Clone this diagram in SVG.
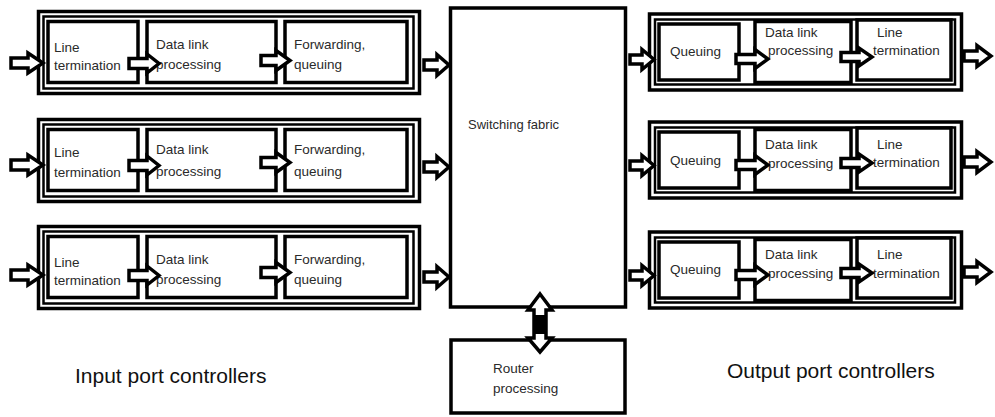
<svg xmlns="http://www.w3.org/2000/svg" width="995" height="417" viewBox="0 0 995 417">
<defs>
<style>
.fo{fill:none;stroke:#000;stroke-width:3.5}
.fi{fill:none;stroke:#000;stroke-width:2.5}
.bx{fill:#fff;stroke:#000;stroke-width:3.5}
.big{fill:#fff;stroke:#000;stroke-width:3.5}
.t{font-family:"Liberation Sans",Arial,sans-serif;font-size:13.5px;fill:#2a2a2a}
.lbl{font-family:"Liberation Sans",Arial,sans-serif;font-size:21px;fill:#111}
.ar{fill:#fff;stroke:#000;stroke-width:3.5;stroke-linejoin:miter}
</style>
</defs>
<rect width="995" height="417" fill="#fff"/>

<!-- Input port controllers -->
<g id="in1">
<rect class="fo" x="38.5" y="11.5" width="381" height="82"/>
<rect class="fi" x="43.5" y="16.5" width="370" height="72"/>
<g id="in1-lt"><rect class="bx" x="48" y="21.5" width="90" height="61"/><text class="t" x="54" y="52">Line</text><text class="t" x="54" y="70">termination</text></g>
<g id="in1-dl"><rect class="bx" x="147" y="21.5" width="129" height="61"/><text class="t" x="156" y="49">Data link</text><text class="t" x="156" y="69">processing</text></g>
<g id="in1-fw"><rect class="bx" x="285" y="21.5" width="122" height="61"/><text class="t" x="294" y="49">Forwarding,</text><text class="t" x="294" y="69">queuing</text></g>
</g>
<g id="in2" transform="translate(0,108)">
<rect class="fo" x="38.5" y="11.5" width="381" height="82"/>
<rect class="fi" x="43.5" y="16.5" width="370" height="72"/>
<g id="in2-lt"><rect class="bx" x="48" y="21.5" width="90" height="61"/><text class="t" x="54" y="49">Line</text><text class="t" x="54" y="69">termination</text></g>
<g id="in2-dl"><rect class="bx" x="147" y="21.5" width="129" height="61"/><text class="t" x="156" y="46">Data link</text><text class="t" x="156" y="68">processing</text></g>
<g id="in2-fw"><rect class="bx" x="285" y="21.5" width="122" height="61"/><text class="t" x="294" y="46">Forwarding,</text><text class="t" x="294" y="68">queuing</text></g>
</g>
<g id="in3" transform="translate(0,215)">
<rect class="fo" x="38.5" y="11.5" width="381" height="82"/>
<rect class="fi" x="43.5" y="16.5" width="370" height="72"/>
<g id="in3-lt"><rect class="bx" x="48" y="21.5" width="90" height="61"/><text class="t" x="54" y="52">Line</text><text class="t" x="54" y="70">termination</text></g>
<g id="in3-dl"><rect class="bx" x="147" y="21.5" width="129" height="61"/><text class="t" x="156" y="49">Data link</text><text class="t" x="156" y="69">processing</text></g>
<g id="in3-fw"><rect class="bx" x="285" y="21.5" width="122" height="61"/><text class="t" x="294" y="49">Forwarding,</text><text class="t" x="294" y="69">queuing</text></g>
</g>

<!-- Switching fabric -->
<g id="fabric">
<rect class="big" x="450.5" y="8" width="175" height="299"/>
<text class="t" x="468" y="129" style="font-size:13px">Switching fabric</text>
</g>

<!-- Router processing -->
<g id="router">
<rect class="big" x="451" y="340" width="174" height="73"/>
<text class="t" x="493" y="373">Router</text>
<text class="t" x="493" y="393">processing</text>
</g>

<!-- Output port controllers -->
<g id="out1">
<rect class="fo" x="649.5" y="14" width="312" height="76"/>
<rect class="fi" x="655" y="19.5" width="300" height="65"/>
<g id="out1-q"><rect class="bx" x="659" y="24" width="80" height="56"/><text class="t" x="670" y="56">Queuing</text></g>
<g id="out1-dl"><rect class="bx" x="755" y="21.5" width="96" height="61"/><text class="t" x="765" y="37">Data link</text><text class="t" x="768" y="55">processing</text></g>
<g id="out1-lt"><rect class="bx" x="857" y="20" width="94" height="60"/><text class="t" x="877" y="37">Line</text><text class="t" x="873" y="55">termination</text></g>
</g>
<g id="out2" transform="translate(0,108)">
<rect class="fo" x="649.5" y="14" width="312" height="76"/>
<rect class="fi" x="655" y="19.5" width="300" height="65"/>
<g id="out2-q"><rect class="bx" x="659" y="24" width="80" height="56"/><text class="t" x="670" y="57">Queuing</text></g>
<g id="out2-dl"><rect class="bx" x="755" y="21.5" width="96" height="61"/><text class="t" x="765" y="41">Data link</text><text class="t" x="768" y="60">processing</text></g>
<g id="out2-lt"><rect class="bx" x="857" y="20" width="94" height="60"/><text class="t" x="877" y="41">Line</text><text class="t" x="873" y="59">termination</text></g>
</g>
<g id="out3" transform="translate(0,218)">
<rect class="fo" x="649.5" y="14" width="312" height="76"/>
<rect class="fi" x="655" y="19.5" width="300" height="65"/>
<g id="out3-q"><rect class="bx" x="659" y="24" width="80" height="56"/><text class="t" x="670" y="56">Queuing</text></g>
<g id="out3-dl"><rect class="bx" x="755" y="21.5" width="96" height="61"/><text class="t" x="765" y="41">Data link</text><text class="t" x="768" y="60">processing</text></g>
<g id="out3-lt"><rect class="bx" x="857" y="20" width="94" height="60"/><text class="t" x="877" y="41">Line</text><text class="t" x="873" y="60">termination</text></g>
</g>

<!-- Labels -->
<text class="lbl" x="75" y="383">Input port controllers</text>
<text class="lbl" x="727" y="378">Output port controllers</text>

<!-- Connectors -->
<g id="connectors">
<g id="in-arrows">
<path class="ar" d="M11,58H28V53L43,63L28,73V68H11Z"/>
<path class="ar" d="M129,58.5H147V54L159,63.5L147,73V68.5H129Z"/>
<path class="ar" d="M261,55.5H276V50.5L290,60.5L276,70.5V65.5H261Z"/>
<path class="ar" d="M424,60H437V54.5L449,65L437,75.5V70H424Z"/>
<g transform="translate(0,102)">
<path class="ar" d="M11,58H28V53L43,63L28,73V68H11Z"/>
<path class="ar" d="M129,58.5H147V54L159,63.5L147,73V68.5H129Z"/>
<path class="ar" d="M261,55.5H276V50.5L290,60.5L276,70.5V65.5H261Z"/>
<path class="ar" d="M424,60H437V54.5L449,65L437,75.5V70H424Z"/>
</g>
<g transform="translate(0,212)">
<path class="ar" d="M11,58H28V53L43,63L28,73V68H11Z"/>
<path class="ar" d="M129,58.5H147V54L159,63.5L147,73V68.5H129Z"/>
<path class="ar" d="M261,55.5H276V50.5L290,60.5L276,70.5V65.5H261Z"/>
<path class="ar" d="M424,60H437V54.5L449,65L437,75.5V70H424Z"/>
</g>
</g>
<g id="out-arrows">
<path class="ar" d="M630,55H642V49.5L654,59.5L642,69.5V64H630Z"/>
<path class="ar" d="M736,54.5H755V49.5L768,59L755,68.5V63.5H736Z"/>
<path class="ar" d="M841,52.5H859V48L872,57L859,66V61.5H841Z"/>
<path class="ar" d="M964,51H977V45.5L991,56L977,66.5V61H964Z"/>
<g transform="translate(0,106)">
<path class="ar" d="M630,55H642V49.5L654,59.5L642,69.5V64H630Z"/>
<path class="ar" d="M736,54.5H755V49.5L768,59L755,68.5V63.5H736Z"/>
<path class="ar" d="M841,52.5H859V48L872,57L859,66V61.5H841Z"/>
<path class="ar" d="M964,51H977V45.5L991,56L977,66.5V61H964Z"/>
</g>
<g transform="translate(0,216)">
<path class="ar" d="M630,55H642V49.5L654,59.5L642,69.5V64H630Z"/>
<path class="ar" d="M736,54.5H755V49.5L768,59L755,68.5V63.5H736Z"/>
<path class="ar" d="M841,52.5H859V48L872,57L859,66V61.5H841Z"/>
<path class="ar" d="M964,51H977V45.5L991,56L977,66.5V61H964Z"/>
</g>
</g>
<g id="fabric-router">
<path class="ar" d="M540,294L552,310H546V338H552L540,352L528,338H534V310H528Z"/>
<rect x="533.5" y="315" width="13" height="19" fill="#000"/>
</g>
</g>
</svg>
